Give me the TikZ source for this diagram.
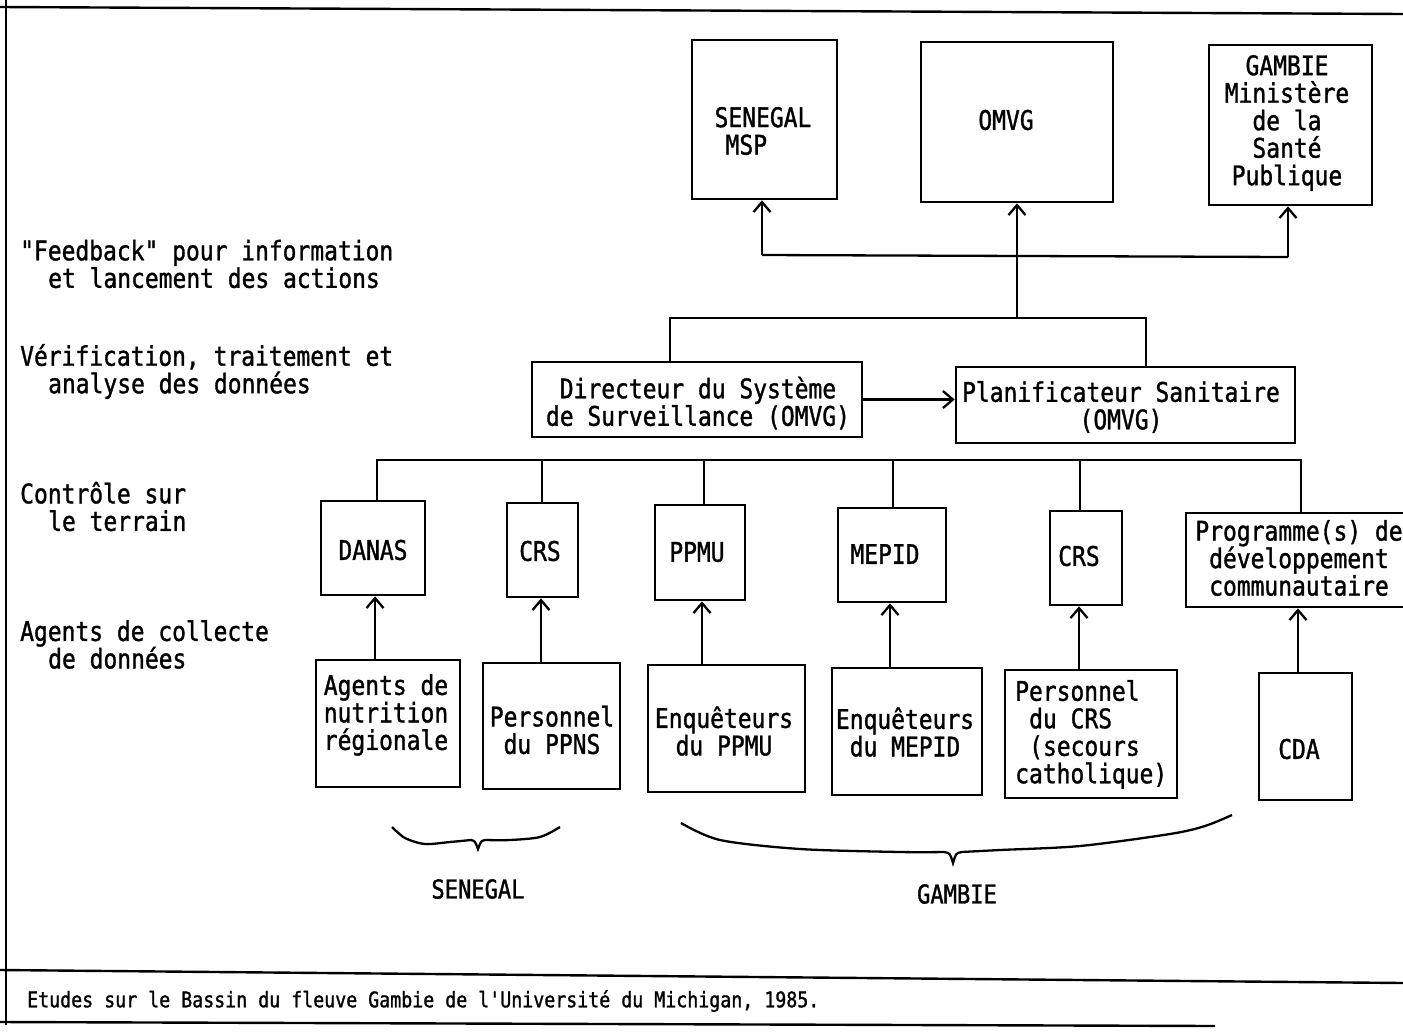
\documentclass[tikz,border=0pt]{standalone}
\usepackage{fontspec}
\newfontfamily\tw[FakeStretch=0.85,FakeBold=1.2]{DejaVu Sans Mono}
\usetikzlibrary{arrows.meta}
\begin{document}
\begin{tikzpicture}[x=1pt,y=-1pt,
  ln/.style={line width=2.3pt},
  frame/.style={line width=2.4pt},
  box/.style={draw,line width=2.6pt,inner sep=0pt},
  txt/.style={font=\tw\fontsize{27}{27.5}\selectfont,inner sep=0pt,align=center},
  lbl/.style={txt,align=left,anchor=west},
  small/.style={font=\tw\fontsize{21.5}{23}\selectfont,inner sep=0pt,anchor=west},
  arr/.style={ln,-{Straight Barb[length=10pt,width=17pt]}},
]
\useasboundingbox (0,0) rectangle (1403,1034);
\clip (0,0) rectangle (1403,1034);

% frame
\draw[frame] (0,7) -- (1403,14);
\draw[frame] (6,0) -- (6,1025);
\draw[frame] (0,970) -- (1403,983);
\draw[frame] (0,1022) -- (1215,1026);

% top boxes
\node[box,minimum width=145pt,minimum height=159pt] (senegal) at (764.5,119.5) {};
\node[box,minimum width=192pt,minimum height=160pt] (omvg) at (1017,122) {};
\node[box,minimum width=163pt,minimum height=160pt] (gambie) at (1290.5,125) {};
\node[txt,align=left] (senegalt) at (763,131) {SENEGAL\\\hspace*{11pt}MSP};
\node[txt] (omvgt) at (1006,120) {OMVG};
\node[txt] (gambiet) at (1287,123) {GAMBIE\\Ministère\\de la\\Santé\\Publique};

% middle level
\node[box,minimum width=330pt,minimum height=75pt] (dir) at (697,399.5) {};
\node[box,minimum width=339pt,minimum height=76pt] (plan) at (1125.5,405) {};
\node[txt] (dirt) at (698,403) {Directeur du Système\\de Surveillance (OMVG)};
\node[txt] (plant) at (1121,407) {Planificateur Sanitaire\\(OMVG)};

% control boxes
\node[box,minimum width=104pt,minimum height=94pt] (danas) at (373,548) {};
\node[box,minimum width=71pt,minimum height=94pt] (crs1) at (542.5,550) {};
\node[box,minimum width=90pt,minimum height=95pt] (ppmu) at (700,552.5) {};
\node[box,minimum width=108pt,minimum height=94pt] (mepid) at (892,555) {};
\node[box,minimum width=72pt,minimum height=94pt] (crs2) at (1086,558) {};
\node[box,minimum width=234pt,minimum height=94pt] (prog) at (1303,560) {};
\node[txt] (danast) at (373,550) {DANAS};
\node[txt] (crs1t) at (540,551) {CRS};
\node[txt] (ppmut) at (697,552) {PPMU};
\node[txt] (mepidt) at (885,554) {MEPID};
\node[txt] (crs2t) at (1079,556) {CRS};
\node[txt] (progt) at (1299,558) {Programme(s) de\\développement\\communautaire};

% collection boxes
\node[box,minimum width=144pt,minimum height=127pt] (agents) at (388,723.5) {};
\node[box,minimum width=137pt,minimum height=126pt] (perso) at (551.5,726) {};
\node[box,minimum width=157pt,minimum height=127pt] (enqp) at (726.5,728.5) {};
\node[box,minimum width=150pt,minimum height=127pt] (enqm) at (907,731.5) {};
\node[box,minimum width=172pt,minimum height=128pt] (pcrs) at (1091,734) {};
\node[box,minimum width=93pt,minimum height=127pt] (cda) at (1305.5,736.5) {};
\node[txt] (agentst) at (386,715) {Agents de\\nutrition\\régionale};
\node[txt] (persot) at (552,730) {Personnel\\du PPNS};
\node[txt] (enqpt) at (724,731) {Enquêteurs\\du PPMU};
\node[txt] (enqmt) at (905,732) {Enquêteurs\\du MEPID};
\node[txt,align=left,anchor=west] (pcrst) at (1015,734.5) {Personnel\\\hspace*{14pt}du CRS\\\hspace*{14pt}(secours\\catholique)};
\node[txt] (cdat) at (1299,749) {CDA};

% left labels
\node[lbl] (fb) at (20,264) {"Feedback" pour information\\\hspace*{28pt}et lancement des actions};
\node[lbl] (ver) at (20,371.5) {Vérification, traitement et\\\hspace*{28pt}analyse des données};
\node[lbl] (ctl) at (20,506.5) {Contrôle sur\\\hspace*{28pt}le terrain};
\node[lbl] (agc) at (20,644.5) {Agents de collecte\\\hspace*{28pt}de données};

% top connectors
\coordinate (h1) at (762,255);
\coordinate (h2) at (1288,257);
\coordinate (m1) at (1017,318);
\coordinate (d1) at (670,318);
\coordinate (p1) at (1146,318);
\draw[ln] (h1) -- (h2);
\draw[arr] (h1) -- (h1 |- senegal.south);
\draw[arr] (h2) -- (h2 |- gambie.south);
\draw[arr] (m1) -- (omvg.south);
\draw[ln] (d1 |- dir.north) -- (d1) -- (p1) -- (p1 |- plan.north);
\draw[arr] (dir.east) -- (dir.east -| plan.west);

% lower bus
\coordinate (l1) at (377,460);
\coordinate (l2) at (542,460);
\coordinate (l3) at (704,460);
\coordinate (l4) at (893,460);
\coordinate (l5) at (1080,460);
\coordinate (l6) at (1301,460);
\draw[ln] (l1 |- danas.north) -- (l1) -- (l6) -- (l6 |- prog.north);
\draw[ln] (l2) -- (l2 |- crs1.north);
\draw[ln] (l3) -- (l3 |- ppmu.north);
\draw[ln] (l4) -- (l4 |- mepid.north);
\draw[ln] (l5) -- (l5 |- crs2.north);

% upward arrows
\coordinate (a1) at (375,0);
\coordinate (a2) at (541,0);
\coordinate (a3) at (702,0);
\coordinate (a4) at (890,0);
\coordinate (a5) at (1079,0);
\coordinate (a6) at (1298,0);
\draw[arr] (a1 |- agents.north) -- (a1 |- danas.south);
\draw[arr] (a2 |- perso.north) -- (a2 |- crs1.south);
\draw[arr] (a3 |- enqp.north) -- (a3 |- ppmu.south);
\draw[arr] (a4 |- enqm.north) -- (a4 |- mepid.south);
\draw[arr] (a5 |- pcrs.north) -- (a5 |- crs2.south);
\draw[arr] (a6 |- cda.north) -- (a6 |- prog.south);

% braces
\draw[ln] plot[smooth] coordinates {(392,827) (405,838) (425,844) (450,842) (471,840)}
  .. controls (475,841) .. (478,849) .. controls (481,841) .. (485,840)
  plot[smooth] coordinates {(485,840) (510,840) (540,837) (560,827)};
\draw[ln] plot[smooth] coordinates {(681,823) (720,840) (800,849) (900,852) (944,852)}
  .. controls (950,853) .. (953,863) .. controls (956,853) .. (962,852)
  plot[smooth] coordinates {(962,852) (1000,850) (1080,846) (1170,834) (1205,826) (1232,815)};
\node[txt,font=\tw\fontsize{26}{27}\selectfont] (sen) at (478,889) {SENEGAL};
\node[txt,font=\tw\fontsize{26}{27}\selectfont] (gam) at (957,894) {GAMBIE};

% footer
\node[small] (foot) at (27,1001) {Etudes sur le Bassin du fleuve Gambie de l'Université du Michigan, 1985.};
\end{tikzpicture}
\end{document}
